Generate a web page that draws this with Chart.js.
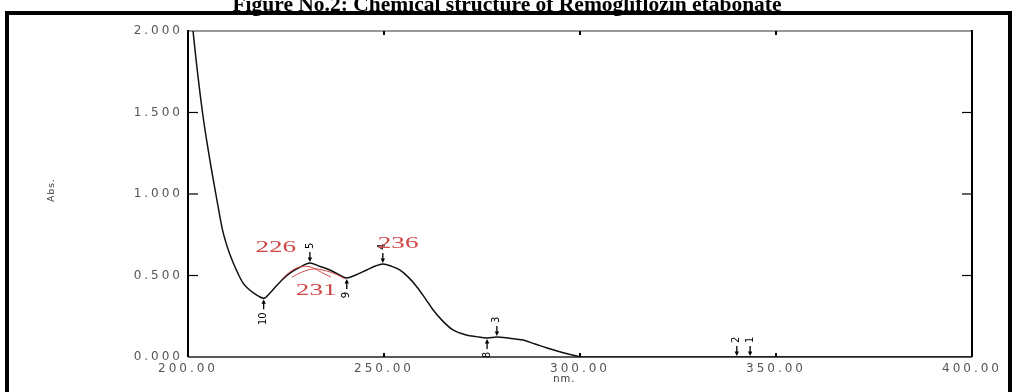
<!DOCTYPE html>
<html>
<head>
<meta charset="utf-8">
<title>UV spectrum</title>
<script src="https://cdn.jsdelivr.net/npm/chart.js@4.4.1/dist/chart.umd.min.js"></script>
<style>
  html, body { margin: 0; padding: 0; background: #fff; }
  #wrap { position: relative; width: 1014px; height: 392px; overflow: hidden; }
  #spectrum { position: absolute; left: 0; top: 0; }
  #figTitle {
    position: absolute; left: 0; top: -6px; width: 1014px; text-align: center;
    font: bold 21.5px "Liberation Serif", "Times New Roman", serif; line-height: 20px;
    color: #000; white-space: nowrap;
  }
</style>
</head>
<body>
<div id="wrap">
  <canvas id="spectrum" width="1014" height="392"></canvas>
  <div id="figTitle">Figure No.2: Chemical structure of Remogliflozin etabonate</div>
</div>
<script>
// Absorption spectrum (wavelength in nm, absorbance)
const wavelengthNm = [201.0, 201.5, 203.7, 205.5, 207.1, 208.0, 208.8, 209.7, 210.6, 211.5,
  212.8, 214.0, 215.3, 216.6, 218.0, 219.3, 220.8, 222.7, 224.3, 226.0,
  228.5, 231.1, 233.5, 236.2, 238.5, 240.5, 242.5, 245.6, 247.8, 249.7,
  252.0, 254.0, 256.2, 258.4, 260.5, 262.5, 265.0, 267.6, 271.0, 273.5,
  276.3, 278.8, 282.0, 285.5, 288.5, 291.6, 295.5, 299.2, 300.5, 400.0];
const absorbance = [2.08, 1.95, 1.50, 1.22, 1.00, 0.88, 0.78, 0.70, 0.635, 0.58,
  0.51, 0.455, 0.42, 0.395, 0.373, 0.36, 0.39, 0.44, 0.48, 0.515,
  0.55, 0.577, 0.557, 0.534, 0.505, 0.485, 0.50, 0.534, 0.558, 0.57,
  0.556, 0.534, 0.49, 0.43, 0.36, 0.29, 0.22, 0.166, 0.135, 0.125,
  0.117, 0.123, 0.115, 0.104, 0.08, 0.055, 0.028, 0.006, 0.0, 0.0];

// Resolved component bands under the 226/231 shoulder
const bandAWavelength = [224.0, 226.5, 229.0, 231.5, 234.0, 236.5];
const bandAAbsorbance = [0.48, 0.53, 0.555, 0.55, 0.52, 0.49];
const bandBWavelength = [226.5, 229.0, 232.0, 235.0, 237.5, 240.0];
const bandBAbsorbance = [0.49, 0.52, 0.54, 0.53, 0.51, 0.48];

// Peak / valley pick list
const pickNumbers = ['1', '2', '3', '4', '5', '8', '9', '10'];
const pickWavelength = [343.4, 340.0, 278.8, 249.7, 231.1, 276.3, 240.5, 219.3];
const pickAbsorbance = [0.0, 0.0, 0.123, 0.57, 0.577, 0.117, 0.485, 0.36];
const pickKind = ['peak', 'peak', 'peak', 'peak', 'peak', 'valley', 'valley', 'valley'];

// Handwritten wavelength notes (anchored in data units)
const noteText = ['226', '236', '231'];
const noteWavelength = [222.4, 253.6, 232.7];
const noteAbsorbance = [0.67, 0.693, 0.405];

// Axis ticks
const xTicks = [200, 250, 300, 350, 400];
const yTicks = [0, 0.5, 1.0, 1.5, 2.0];

const INK = '#111';
const NOTE_RED = '#d04848';

const spectrumDecor = {
  id: 'spectrumDecor',
  beforeDraw(chart) {
    const ctx = chart.ctx;
    ctx.save();
    ctx.fillStyle = '#fff';
    ctx.fillRect(0, 0, chart.width, chart.height);
    // outer frame
    ctx.strokeStyle = '#000';
    ctx.lineWidth = 4;
    ctx.strokeRect(7, 13, 1003, 420);
    ctx.restore();
    // wide-set tick labels
    ctx.letterSpacing = '3px';
  },
  beforeDatasetsDraw(chart) {
    const ctx = chart.ctx;
    ctx.letterSpacing = '0px';
    const a = chart.chartArea;
    const xs = chart.scales.x, ys = chart.scales.y;
    ctx.save();
    // plot box
    ctx.lineCap = 'butt';
    ctx.strokeStyle = '#777';
    ctx.lineWidth = 1.5;
    ctx.beginPath(); ctx.moveTo(a.left, a.top); ctx.lineTo(a.right, a.top); ctx.stroke();
    ctx.strokeStyle = '#222';
    ctx.lineWidth = 1.5;
    ctx.beginPath(); ctx.moveTo(a.left, a.bottom); ctx.lineTo(a.right, a.bottom); ctx.stroke();
    ctx.strokeStyle = '#000';
    ctx.lineWidth = 2;
    ctx.beginPath(); ctx.moveTo(a.left, a.top - 1); ctx.lineTo(a.left, a.bottom); ctx.stroke();
    ctx.beginPath(); ctx.moveTo(a.right, a.top - 1); ctx.lineTo(a.right, a.bottom); ctx.stroke();
    // inward tick marks
    ctx.lineWidth = 1.2;
    ctx.strokeStyle = '#000';
    yTicks.slice(1, -1).forEach(v => {
      const py = ys.getPixelForValue(v);
      ctx.beginPath(); ctx.moveTo(a.left, py); ctx.lineTo(a.left + 10, py); ctx.stroke();
      ctx.beginPath(); ctx.moveTo(a.right, py); ctx.lineTo(a.right - 10, py); ctx.stroke();
    });
    ctx.lineWidth = 2;
    xTicks.slice(1, -1).forEach(v => {
      const px = xs.getPixelForValue(v);
      ctx.beginPath(); ctx.moveTo(px, a.top); ctx.lineTo(px, a.top + 4); ctx.stroke();
      ctx.beginPath(); ctx.moveTo(px, a.bottom); ctx.lineTo(px, a.bottom - 4); ctx.stroke();
    });
    ctx.restore();
  },
  afterDatasetsDraw(chart) {
    const ctx = chart.ctx;
    const a = chart.chartArea;
    const xs = chart.scales.x, ys = chart.scales.y;
    ctx.save();
    ctx.letterSpacing = '0px';

    // axis titles
    ctx.fillStyle = '#333';
    ctx.font = '10px "DejaVu Sans", sans-serif';
    ctx.textAlign = 'center';
    ctx.textBaseline = 'middle';
    ctx.letterSpacing = '1px';
    ctx.fillText('nm.', xs.getPixelForValue(296), a.bottom + 22);
    ctx.save();
    ctx.translate(52, (a.top + a.bottom) / 2 - 4);
    ctx.rotate(-Math.PI / 2);
    ctx.font = '9px "DejaVu Sans", sans-serif';
    ctx.fillText('Abs.', 0, 0);
    ctx.restore();
    ctx.letterSpacing = '0px';

    // pick markers: arrow toward the curve, rotated number beyond it
    ctx.fillStyle = '#000';
    ctx.strokeStyle = '#000';
    ctx.lineWidth = 1.3;
    ctx.font = '10px "DejaVu Sans", sans-serif';
    pickNumbers.forEach((num, i) => {
      const px = xs.getPixelForValue(pickWavelength[i]);
      const py = ys.getPixelForValue(pickAbsorbance[i]);
      const dir = pickKind[i] === 'peak' ? -1 : 1;
      const tip = py + dir * 1;
      const tail = py + dir * 11;
      ctx.beginPath(); ctx.moveTo(px, tail); ctx.lineTo(px, tip + dir * 3); ctx.stroke();
      ctx.beginPath();
      ctx.moveTo(px, tip);
      ctx.lineTo(px - 2.2, tip + dir * 4.5);
      ctx.lineTo(px + 2.2, tip + dir * 4.5);
      ctx.closePath(); ctx.fill();
      const w = ctx.measureText(num).width;
      ctx.save();
      ctx.translate(px, tail + dir * (3 + w / 2));
      ctx.rotate(-Math.PI / 2);
      ctx.textAlign = 'center';
      ctx.textBaseline = 'middle';
      ctx.fillText(num, 0, 0);
      ctx.restore();
    });

    // red wavelength notes
    ctx.fillStyle = NOTE_RED;
    ctx.font = '16px "Liberation Serif", "Times New Roman", serif';
    ctx.textAlign = 'center';
    ctx.textBaseline = 'middle';
    noteText.forEach((t, i) => {
      ctx.save();
      ctx.translate(xs.getPixelForValue(noteWavelength[i]), ys.getPixelForValue(noteAbsorbance[i]));
      ctx.scale(1.7, 1);
      ctx.fillText(t, 0, 0);
      ctx.restore();
    });
    ctx.restore();
  }
};

const toPoints = (xsArr, ysArr) => xsArr.map((x, i) => ({ x, y: ysArr[i] }));

new Chart(document.getElementById('spectrum'), {
  type: 'line',
  data: {
    datasets: [
      {
        label: 'Band A',
        data: toPoints(bandAWavelength, bandAAbsorbance),
        borderColor: NOTE_RED, borderWidth: 1, pointRadius: 0, tension: 0.4, fill: false
      },
      {
        label: 'Band B',
        data: toPoints(bandBWavelength, bandBAbsorbance),
        borderColor: NOTE_RED, borderWidth: 1, pointRadius: 0, tension: 0.4, fill: false
      },
      {
        label: 'Abs.',
        data: toPoints(wavelengthNm, absorbance),
        borderColor: INK, borderWidth: 1.5, pointRadius: 0,
        cubicInterpolationMode: 'monotone', fill: false
      }
    ]
  },
  options: {
    responsive: false,
    animation: false,
    events: [],
    layout: { padding: { left: 40, right: 42, top: 31, bottom: 5 } },
    plugins: { legend: { display: false }, tooltip: { enabled: false }, title: { display: false } },
    scales: {
      x: {
        type: 'linear', min: 200, max: 400,
        afterBuildTicks: s => { s.ticks = xTicks.map(v => ({ value: v })); },
        afterFit: s => { s.height = 30; },
        grid: { display: false, drawTicks: false },
        border: { display: false },
        ticks: {
          padding: 5, color: '#555',
          font: { family: '"DejaVu Sans", sans-serif', size: 12 },
          callback: v => Number(v).toFixed(2), maxRotation: 0, autoSkip: false
        }
      },
      y: {
        type: 'linear', min: 0, max: 2,
        afterBuildTicks: s => { s.ticks = yTicks.map(v => ({ value: v })); },
        afterFit: s => { s.width = 148; },
        grid: { display: false, drawTicks: false },
        border: { display: false },
        ticks: {
          padding: 5, color: '#555',
          font: { family: '"DejaVu Sans", sans-serif', size: 12 },
          callback: v => Number(v).toFixed(3), autoSkip: false
        }
      }
    }
  },
  plugins: [spectrumDecor]
});
</script>
</body>
</html>
